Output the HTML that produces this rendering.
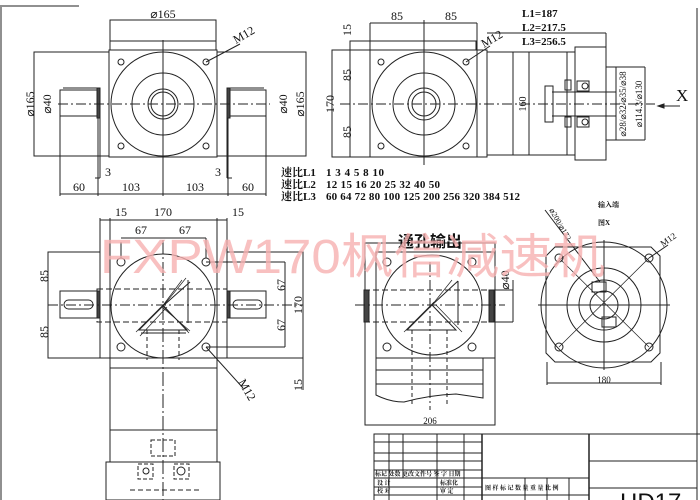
<!DOCTYPE html>
<html><head><meta charset="utf-8"><style>
html,body{margin:0;padding:0;background:#fff;}
svg{display:block;}
text{font-family:"Liberation Serif","Noto Serif CJK SC",serif;fill:#111;}
.c{font-family:"Liberation Sans","Noto Sans CJK SC",sans-serif;}
</style></head><body>
<svg width="700" height="500" viewBox="0 0 700 500" xmlns="http://www.w3.org/2000/svg">
<g fill="none" stroke="#222" stroke-width="1">
<line x1="1" y1="7" x2="1" y2="500"/><line x1="0" y1="6" x2="79" y2="6"/>
<line x1="697" y1="8" x2="697" y2="500"/>

<rect x="110" y="20" width="106" height="30"/><line x1="110" y1="41" x2="216" y2="41"/>
<rect x="34" y="52" width="272" height="104"/>
<rect x="109" y="50" width="108" height="107" fill="#fff"/>
<circle cx="163" cy="104" r="52"/><circle cx="163" cy="104" r="31"/>
<circle cx="163" cy="104" r="15"/><circle cx="163" cy="104" r="12"/>
<circle cx="121" cy="62" r="3"/><circle cx="206" cy="62" r="3"/><circle cx="121" cy="146" r="3"/><circle cx="206" cy="146" r="3"/>
<rect x="60" y="90" width="38" height="26" fill="#fff"/><line x1="63" y1="88" x2="97" y2="88"/>
<rect x="228" y="90" width="38" height="26" fill="#fff"/><line x1="230" y1="88" x2="264" y2="88"/>
<rect x="97" y="88" width="3" height="30" fill="#444"/><rect x="227" y="88" width="3" height="30" fill="#444"/>
<line x1="100" y1="118" x2="100" y2="178"/><line x1="227" y1="118" x2="227" y2="178"/>
<line x1="95" y1="178" x2="100" y2="178"/><line x1="227" y1="178" x2="232" y2="178"/>
<line x1="58" y1="104" x2="270" y2="104" stroke-dasharray="10,3,2,3"/>
<line x1="163" y1="40" x2="163" y2="196"/>
<line x1="60" y1="116" x2="60" y2="196"/><line x1="266" y1="116" x2="266" y2="196"/>
<line x1="98" y1="118" x2="98" y2="196"/><line x1="228" y1="118" x2="228" y2="196"/>
<line x1="60" y1="194" x2="266" y2="194"/>
<line x1="206" y1="62" x2="240" y2="44"/>

<line x1="370" y1="23" x2="477" y2="23"/><line x1="370" y1="23" x2="370" y2="50"/><line x1="477" y1="23" x2="477" y2="50"/>
<rect x="350" y="41" width="126" height="9"/>
<rect x="332" y="50" width="145" height="107"/>
<line x1="370" y1="50" x2="370" y2="157"/><line x1="350" y1="41" x2="350" y2="157"/>
<rect x="477" y="50" width="10" height="107"/>
<circle cx="424" cy="104" r="52"/><circle cx="424" cy="104" r="31"/>
<circle cx="424" cy="104" r="16"/><circle cx="424" cy="104" r="12"/>
<circle cx="381" cy="62" r="3"/><circle cx="466" cy="62" r="3"/><circle cx="381" cy="146" r="3"/><circle cx="466" cy="146" r="3"/>
<line x1="424" y1="20" x2="424" y2="165"/>
<line x1="466" y1="62" x2="490" y2="46"/>
<line x1="487" y1="33" x2="606" y2="33"/><line x1="606" y1="33" x2="606" y2="47"/>
<rect x="487" y="52" width="88" height="103"/>
<line x1="513" y1="52" x2="513" y2="155"/><line x1="529" y1="52" x2="529" y2="155"/><line x1="567" y1="52" x2="567" y2="155"/>
<rect x="575" y="47" width="31" height="113"/>
<line x1="606" y1="67" x2="645" y2="67"/><line x1="606" y1="140" x2="645" y2="140"/><line x1="645" y1="67" x2="645" y2="140"/>
<line x1="616" y1="67" x2="616" y2="140"/>
<line x1="552" y1="92" x2="616" y2="92"/><line x1="552" y1="116" x2="616" y2="116"/>
<rect x="545" y="86" width="8" height="36"/>
<rect x="565" y="80" width="6" height="10"/><rect x="565" y="117" width="6" height="10"/>
<rect x="577" y="81" width="12" height="10"/><rect x="577" y="117" width="12" height="10"/>
<circle cx="585" cy="86" r="3"/><circle cx="585" cy="122" r="3"/>
<line x1="340" y1="104" x2="655" y2="104" stroke-dasharray="10,3,2,3"/>
<line x1="658" y1="106" x2="680" y2="106"/>
<path d="M658 106 l6 -2 v4 z" fill="#222"/>

<line x1="100" y1="218" x2="100" y2="358"/><line x1="227" y1="218" x2="227" y2="358"/>
<line x1="110" y1="218" x2="110" y2="220"/><line x1="217" y1="218" x2="217" y2="220"/>
<rect x="48" y="252" width="255" height="106"/>
<rect x="100" y="220" width="127" height="138" fill="#fff"/>
<rect x="110" y="220" width="107" height="138"/>
<circle cx="163" cy="306" r="52"/>
<circle cx="121" cy="262" r="4"/><circle cx="206" cy="262" r="4"/><circle cx="121" cy="347" r="4"/><circle cx="206" cy="347" r="4"/>
<rect x="97" y="289" width="130" height="33" stroke-dasharray="6,3"/>
<rect x="60" y="291" width="37" height="27" fill="#fff"/><rect x="64" y="300" width="29" height="9" rx="4.5"/>
<rect x="230" y="291" width="36" height="27" fill="#fff"/><rect x="233" y="300" width="29" height="9" rx="4.5"/>
<rect x="97" y="291" width="3" height="27" fill="#444"/><rect x="227" y="291" width="3" height="27" fill="#444"/>
<line x1="48" y1="305" x2="303" y2="305" stroke-dasharray="10,3,2,3"/>
<line x1="163" y1="240" x2="163" y2="500" stroke-dasharray="14,3,2,3"/>
<path d="M139 330 L163 306 L187 330 Z"/><path d="M141 333 H186" />
<line x1="163" y1="306" x2="190" y2="282"/><line x1="188" y1="280" x2="188" y2="323"/>
<path d="M136 332 l30 -30 M140 336 l27 -29 M182 280 l-18 24 M186 278 l-22 27 M162 307 l28 24 M163 305 l26 28" stroke-width="0.7"/>
<line x1="147" y1="330" x2="147" y2="360" stroke-dasharray="4,3"/><line x1="179" y1="330" x2="179" y2="360" stroke-dasharray="4,3"/>
<line x1="121" y1="242" x2="121" y2="258"/><line x1="121" y1="238" x2="206" y2="238"/><line x1="206" y1="238" x2="206" y2="258"/>
<line x1="206" y1="262" x2="285" y2="262"/><line x1="206" y1="347" x2="285" y2="347"/><line x1="285" y1="262" x2="285" y2="347"/>
<line x1="303" y1="358" x2="303" y2="390"/>
<line x1="206" y1="347" x2="243" y2="388"/>
<rect x="110" y="358" width="107" height="10"/>
<line x1="110" y1="368" x2="110" y2="462"/><line x1="217" y1="368" x2="217" y2="462"/>
<line x1="110" y1="430" x2="217" y2="430"/>
<rect x="106" y="462" width="114" height="38"/>
<rect x="151" y="440" width="24" height="16" stroke-dasharray="4,2"/>
<rect x="138" y="464" width="15" height="15" stroke-dasharray="4,2"/><circle cx="146" cy="471" r="3"/>
<rect x="174" y="464" width="15" height="15" stroke-dasharray="4,2"/><circle cx="181" cy="471" r="4"/>
<line x1="130" y1="490" x2="200" y2="490" stroke-dasharray="5,3"/>

<rect x="365" y="243" width="130" height="182"/>
<rect x="376" y="252" width="119" height="106" fill="#fff"/>
<circle cx="432" cy="305" r="50"/>
<circle cx="387" cy="262" r="4"/><circle cx="472" cy="262" r="4"/><circle cx="387" cy="347" r="4"/><circle cx="472" cy="347" r="4"/>
<rect x="364" y="290" width="131" height="32" stroke-dasharray="6,3"/>
<rect x="364" y="290" width="5" height="32" fill="#444"/><rect x="489" y="290" width="5" height="32" fill="#444"/>
<line x1="355" y1="305" x2="505" y2="305" stroke-dasharray="10,3,2,3"/>
<line x1="430" y1="262" x2="430" y2="410" stroke-dasharray="10,3,2,3"/>
<line x1="495" y1="290" x2="513" y2="290"/><line x1="495" y1="322" x2="513" y2="322"/><line x1="513" y1="280" x2="513" y2="322"/>
<path d="M407 330 L432 305 L456 330 Z"/><line x1="432" y1="305" x2="458" y2="281"/><line x1="458" y1="281" x2="458" y2="325"/>
<path d="M404 332 l30 -30 M436 305 l26 27 M452 280 l-20 25" stroke-width="0.7"/>
<line x1="412" y1="330" x2="412" y2="405" stroke-dasharray="4,3"/><line x1="447" y1="330" x2="447" y2="405" stroke-dasharray="4,3"/>
<path d="M376 358 V395 Q390 402 404 402 Q430 395 456 394 Q470 396 483 398 V358"/>
<line x1="376" y1="370" x2="483" y2="370"/><line x1="376" y1="384" x2="483" y2="384"/>

<path d="M555 247 H651 L660 256 V353 L651 362 H555 L546 353 V256 Z"/>
<circle cx="604" cy="305" r="63"/><circle cx="604" cy="305" r="37"/><circle cx="604" cy="305" r="25"/><circle cx="604" cy="305" r="14"/>
<circle cx="559" cy="258" r="4"/><circle cx="649" cy="258" r="4"/><circle cx="559" cy="347" r="4"/><circle cx="649" cy="347" r="4"/>
<line x1="559" y1="258" x2="649" y2="347" stroke-width="0.7"/><line x1="649" y1="258" x2="559" y2="347" stroke-width="0.7"/>
<line x1="538" y1="305" x2="670" y2="305"/><line x1="604" y1="240" x2="604" y2="370"/>
<rect x="592" y="282" width="14" height="10"/><rect x="602" y="317" width="14" height="10"/>
<line x1="547" y1="362" x2="547" y2="385"/><line x1="661" y1="362" x2="661" y2="385"/><line x1="547" y1="383" x2="661" y2="383"/>
<line x1="545" y1="210" x2="600" y2="282"/>
<line x1="649" y1="258" x2="668" y2="245"/>

<rect x="374" y="434" width="330" height="70"/>
<line x1="374" y1="442" x2="482" y2="442"/><line x1="374" y1="453" x2="482" y2="453"/><line x1="374" y1="461" x2="482" y2="461"/>
<line x1="374" y1="470" x2="482" y2="470"/><line x1="374" y1="478" x2="589" y2="478"/><line x1="374" y1="487" x2="482" y2="487"/><line x1="374" y1="495" x2="482" y2="495"/>
<line x1="389" y1="434" x2="389" y2="500"/><line x1="403" y1="434" x2="403" y2="478"/><line x1="437" y1="434" x2="437" y2="500"/><line x1="464" y1="434" x2="464" y2="500"/>
<line x1="482" y1="434" x2="482" y2="500" stroke-width="1.5"/><line x1="589" y1="434" x2="589" y2="500" stroke-width="1.5"/>
<line x1="525" y1="478" x2="525" y2="500"/><line x1="547" y1="478" x2="547" y2="500"/><line x1="569" y1="478" x2="569" y2="500"/>
<line x1="482" y1="495" x2="589" y2="495"/>
<line x1="589" y1="461" x2="697" y2="461"/><line x1="589" y1="488" x2="697" y2="488"/>
</g>

<g font-size="12">
<text x="163" y="18" text-anchor="middle">⌀165</text>
<text transform="translate(34,104) rotate(-90)" text-anchor="middle">⌀165</text>
<text transform="translate(51,104) rotate(-90)" text-anchor="middle">⌀40</text>
<text transform="translate(287,104) rotate(-90)" text-anchor="middle">⌀40</text>
<text transform="translate(304,104) rotate(-90)" text-anchor="middle">⌀165</text>
<text transform="translate(236,44) rotate(-30)">M12</text>
<text x="105" y="176">3</text><text x="215" y="176">3</text>
<text x="79" y="191" text-anchor="middle">60</text><text x="131" y="191" text-anchor="middle">103</text>
<text x="195" y="191" text-anchor="middle">103</text><text x="248" y="191" text-anchor="middle">60</text>
<text x="397" y="20" text-anchor="middle">85</text><text x="451" y="20" text-anchor="middle">85</text>
<text transform="translate(351,30) rotate(-90)" text-anchor="middle">15</text>
<text transform="translate(351,75) rotate(-90)" text-anchor="middle">85</text>
<text transform="translate(334,104) rotate(-90)" text-anchor="middle">170</text>
<text transform="translate(351,132) rotate(-90)" text-anchor="middle">85</text>
<text transform="translate(484,48) rotate(-30)">M12</text>
<text transform="translate(526,104) rotate(-90)" text-anchor="middle" font-size="10">160</text>
<text transform="translate(626,104) rotate(-90)" text-anchor="middle" font-size="9">⌀28/⌀32/⌀35/⌀38</text>
<text transform="translate(642,104) rotate(-90)" text-anchor="middle" font-size="9">⌀114.3/⌀130</text>
<text x="676" y="101" font-size="17">X</text>
<g font-size="11" font-weight="bold"><text x="522" y="17">L1=187</text><text x="522" y="31">L2=217.5</text><text x="522" y="45">L3=256.5</text></g>
<g font-size="11" font-weight="bold">
<text x="281" y="176">速比L1</text><text x="281" y="188">速比L2</text><text x="281" y="200">速比L3</text>
<text x="326" y="176" textLength="58" lengthAdjust="spacing">1 3 4 5 8 10</text>
<text x="326" y="188" textLength="114" lengthAdjust="spacing">12 15 16 20 25 32 40 50</text>
<text x="326" y="200" textLength="194" lengthAdjust="spacing">60 64 72 80 100 125 200 256 320 384 512</text>
</g>
<text x="121" y="216" text-anchor="middle">15</text><text x="163" y="216" text-anchor="middle">170</text><text x="238" y="216" text-anchor="middle">15</text>
<text x="141" y="234" text-anchor="middle">67</text><text x="185" y="234" text-anchor="middle">67</text>
<text transform="translate(48,276) rotate(-90)" text-anchor="middle">85</text>
<text transform="translate(48,332) rotate(-90)" text-anchor="middle">85</text>
<text transform="translate(285,285) rotate(-90)" text-anchor="middle">67</text>
<text transform="translate(285,325) rotate(-90)" text-anchor="middle">67</text>
<text transform="translate(302,305) rotate(-90)" text-anchor="middle">170</text>
<text transform="translate(302,385) rotate(-90)" text-anchor="middle">15</text>
<text transform="translate(238,382) rotate(60)">M12</text>
<text x="430" y="247" text-anchor="middle" font-size="16" font-weight="bold" class="c">通孔输出</text>
<text transform="translate(509,280) rotate(-90)" text-anchor="middle">⌀40</text>
<text x="430" y="424" text-anchor="middle" font-size="9">206</text>
<text x="604" y="383" text-anchor="middle" font-size="9">180</text>
<text transform="translate(549,210) rotate(60)" font-size="8">⌀200/⌀172</text>
<text transform="translate(663,247) rotate(-35)" font-size="9">M12</text>
<text x="598" y="207" font-size="7" font-weight="bold">输入端</text>
<text x="598" y="225" font-size="7" font-weight="bold">图X</text>
<g font-size="6" font-weight="bold">
<text x="375" y="476">标记 处数 更改文件号  签  字  日期</text>
<text x="377" y="485">设  计</text><text x="440" y="485">标准化</text>
<text x="377" y="493">校  对</text><text x="440" y="493">审  定</text>
<text x="485" y="490">图 样 标 记   数 量  重 量  比 例</text>
</g>
<text x="620" y="510" font-size="24" class="c">HD17</text>
</g>
<text x="100" y="273" font-size="48" class="c" textLength="505" lengthAdjust="spacingAndGlyphs" style="fill:#f6b0b0" fill-opacity="0.8">FXPW170枫信减速机</text>
</svg>
</body></html>
